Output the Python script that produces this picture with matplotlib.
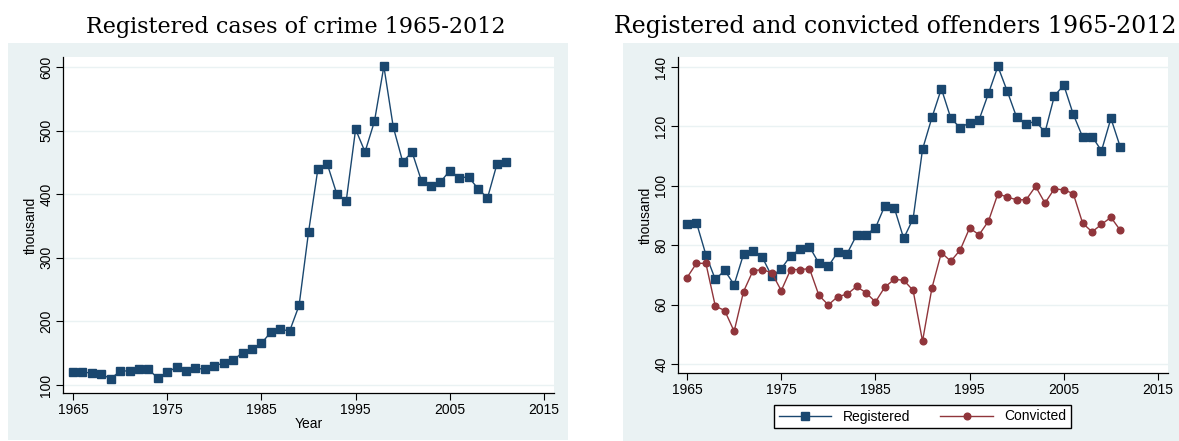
import matplotlib
matplotlib.use("Agg")
import matplotlib.pyplot as plt
from matplotlib.patches import Rectangle

plt.rcParams['font.family'] = ['Liberation Sans', 'DejaVu Sans']

# -------------------------
# Data (thousand), 1965-2011
# -------------------------
years = list(range(1965, 2012))

crime_cases = [121, 120, 119, 117, 110, 121.5, 122.5, 125, 124.5, 111,
               120, 128, 122.5, 126, 125, 130, 134.5, 139, 151, 157,
               165.5, 183, 187.5, 185, 225, 340, 440, 447, 400.5, 389,
               502, 466.5, 514.5, 601, 505.5, 451, 466, 420.5, 413.5, 419,
               437, 426, 427, 408.5, 394, 447, 451]

registered = [87.3, 87.6, 76.8, 68.5, 71.5, 66.7, 77.0, 78.1, 75.9, 69.5,
              72.1, 76.4, 78.7, 79.5, 73.9, 72.9, 77.7, 77.2, 83.4, 83.6,
              85.8, 93.3, 92.6, 82.3, 88.9, 112.3, 123.0, 132.7, 122.8, 119.5,
              121.3, 122.2, 131.1, 140.2, 131.8, 123.0, 120.7, 121.8, 118.0, 130.3,
              133.9, 124.1, 116.4, 116.6, 111.8, 122.7, 113.0]

convicted = [69.1, 73.9, 73.9, 59.5, 58.0, 51.0, 64.4, 71.4, 71.8, 70.7,
             64.7, 71.8, 71.8, 72.1, 63.1, 59.9, 62.7, 63.5, 66.1, 64.0,
             60.9, 65.9, 68.5, 68.2, 64.8, 47.7, 65.6, 77.5, 74.6, 78.4,
             85.8, 83.5, 88.1, 97.3, 96.2, 95.3, 95.3, 99.8, 94.2, 99.0,
             98.6, 97.4, 87.4, 84.5, 87.0, 89.4, 85.0]

x_ticks = [1965, 1975, 1985, 1995, 2005, 2015]
left_yticks = [100, 200, 300, 400, 500, 600]
right_yticks = [40, 60, 80, 100, 120, 140]

left_title = "Registered cases of crime 1965-2012"
right_title = "Registered and convicted offenders 1965-2012"

NAVY = "#1a476f"
MAROON = "#90353b"
PANEL = "#eaf2f3"

W, H = 1179, 441
fig = plt.figure(figsize=(W / 100, H / 100), dpi=100)


def px_rect(x0, y0, x1, y1):
    # pixel box (from top-left) -> figure fraction [l, b, w, h]
    return [x0 / W, 1 - y1 / H, (x1 - x0) / W, (y1 - y0) / H]


# panel backgrounds (behind the axes)
for box in [(8, 43, 568, 440), (623, 43, 1190, 441)]:
    l, b, w, h = px_rect(*box)
    fig.patches.append(Rectangle((l, b), w, h, transform=fig.transFigure,
                                 facecolor=PANEL, edgecolor="none", zorder=-5))


def style_axes(ax, yticks):
    ax.set_facecolor("white")
    ax.spines["top"].set_visible(False)
    ax.spines["right"].set_visible(False)
    ax.spines["left"].set_linewidth(0.9)
    ax.spines["bottom"].set_linewidth(0.9)
    ax.set_xticks(x_ticks)
    ax.set_yticks(yticks)
    ax.tick_params(axis="both", direction="out", length=5, width=0.8,
                   labelsize=10, pad=2)
    for lab in ax.get_yticklabels():
        lab.set_rotation(90)
        lab.set_va("center")
    ax.yaxis.grid(True, color=PANEL, linewidth=1.0)
    ax.set_axisbelow(True)


# -------------------------
# Left chart
# -------------------------
ax1 = fig.add_axes(px_rect(63, 57, 554, 393))
ax1.plot(years, crime_cases, color=NAVY, linewidth=1.0, marker="s",
         markersize=5.8, clip_on=False)
ax1.set_xlim(1963.94, 2016.06)
ax1.set_ylim(87.4, 615.7)
style_axes(ax1, left_yticks)
ax1.set_ylabel("thousand", fontsize=10, labelpad=1)
ax1.set_xlabel("Year", fontsize=10, labelpad=0)

# -------------------------
# Right chart
# -------------------------
ax2 = fig.add_axes(px_rect(678, 57, 1168, 373))
ax2.plot(years, registered, color=NAVY, linewidth=1.0, marker="s",
         markersize=5.2, label="Registered", clip_on=False)
ax2.plot(years, convicted, color=MAROON, linewidth=1.0, marker="o",
         markersize=4.8, label="Convicted", clip_on=False)
ax2.set_xlim(1964.04, 2016.06)
ax2.set_ylim(36.97, 143.37)
style_axes(ax2, right_yticks)
ax2.set_ylabel("thousand", fontsize=10, labelpad=1)

fig.legend(loc="center", bbox_to_anchor=(922.5 / W, 1 - 416.5 / H), ncol=2,
           fontsize=10, frameon=True, fancybox=False, edgecolor="black",
           facecolor="white", framealpha=1, handlelength=3.8,
           columnspacing=2.2, borderpad=0.35)

# -------------------------
# Titles (above the panels)
# -------------------------
fig.text(296 / W, 1 - 33 / H, left_title, ha="center", va="baseline",
         fontsize=16, family="DejaVu Serif")
fig.text(895 / W, 1 - 33 / H, right_title, ha="center", va="baseline",
         fontsize=17, family="DejaVu Serif")

fig.savefig("out.png", dpi=100)
